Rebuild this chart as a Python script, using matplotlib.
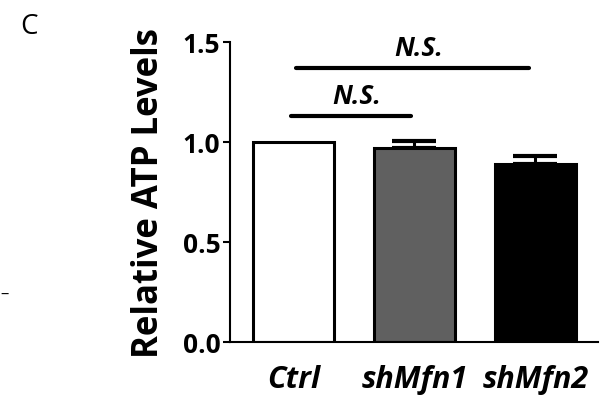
import numpy as np
import matplotlib.pyplot as plt

groups = ["Ctrl", "shMfn1", "shMfn2"]
means = [1.0, 0.97, 0.89]
errs = [0.0, 0.035, 0.04]
colors = ["white", "#606060", "black"]
yticks = [0.0, 0.5, 1.0, 1.5]
# (x start, x end, height) for N.S. brackets
sig = [(-0.02, 0.97, 1.13), (0.02, 1.95, 1.37)]

plt.rcParams['font.family'] = ['Open Sans', 'DejaVu Sans']

fig = plt.figure(figsize=(6, 4.02), dpi=100)
ax = fig.add_axes([230/600, 1 - 343/402, 368/600, 300/402])

x = np.arange(len(groups))
ax.bar(x, means, width=0.67, color=colors, edgecolor="black", linewidth=2.2, zorder=2)
ax.errorbar(x[1:], means[1:], yerr=[np.zeros(2), errs[1:]], fmt="none",
            ecolor="black", elinewidth=2.2, capsize=16, capthick=3, zorder=1)

for x0, x1, h in sig:
  ax.plot([x0, x1], [h, h], color="black", lw=3, solid_capstyle="round", clip_on=False)
  ax.text((x0 + x1) / 2 + 0.05, h + 0.035, "N.S.", ha="center", va="bottom",
          fontsize=19, fontweight="bold", style="italic")

ax.set_xlim(-0.525, 2.517)
ax.set_ylim(0, 1.5)
ax.set_yticks(yticks)
ax.set_yticklabels([f"{v:.1f}" for v in yticks], fontsize=19, fontweight="bold")
ax.set_xticks(x)
ax.set_xticklabels(groups, fontsize=22, fontweight="bold", style="italic")
ax.tick_params(axis="x", length=0, pad=16)
ax.set_xticks([1], minor=True)
ax.tick_params(axis="x", which="minor", length=8, width=1.5)
ax.tick_params(axis="y", length=5, width=1.5, pad=2)

for s in ["top", "right"]:
  ax.spines[s].set_visible(False)
for s in ["left", "bottom"]:
  ax.spines[s].set_linewidth(1.5)

ax.set_ylabel("Relative ATP Levels", fontsize=25, fontweight="bold", labelpad=11)

fig.text(20/600, 1 - 27/402, "C", fontsize=20, va="center", ha="left")
fig.text(0, 1 - 295/402, "–", fontsize=12, va="center", ha="left")

fig.savefig("out.png", dpi=100)
